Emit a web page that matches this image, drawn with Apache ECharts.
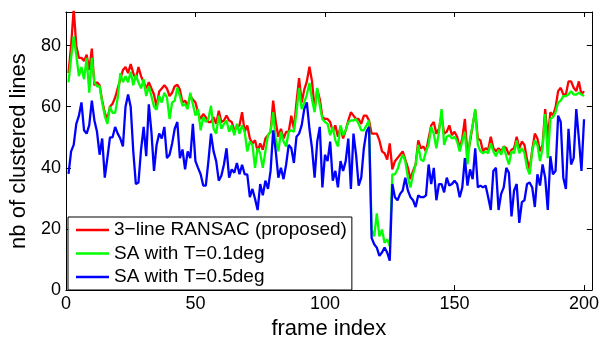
<!DOCTYPE html>
<html>
<head>
<meta charset="utf-8">
<script src="https://cdn.jsdelivr.net/npm/echarts@6/dist/echarts.min.js"></script>
<style>
html,body{margin:0;padding:0;background:#fff;}
#chart{width:602px;height:345px;}
</style>
</head>
<body>
<div id="chart"></div>
<script>
// ---- data (frames 1..200) ----
const seriesNames = ['3\u2212line RANSAC (proposed)', 'SA with T=0.1deg', 'SA with T=0.5deg'];
const xTicks = [0, 50, 100, 150, 200];
const yTicks = [0, 20, 40, 60, 80];

const ransac = [
71,80,92,80,76,76,75,77,72,79,67,68,67,62,58,56,60,61,63,66,
69,72,73,71,74,71,69,73,70,68,66,68,66,64,60,65,66,67,66,63.5,
64.6,66.7,67.2,65.6,61.4,62,60.3,63.5,62.4,61.4,58,56,57.6,56.6,55,55,56.6,54.4,58.7,55,
55.5,57.1,55.5,55,52.3,53.4,53.9,58.2,51.8,53.9,49.6,48,49,45.4,48,45.9,49.6,50.7,51.8,62,
55,50.2,52.8,49.6,51.8,51.8,57.1,52.8,61.4,69.4,61.4,65.6,68.3,73.1,68.3,59.2,65.6,62.4,56.6,56,
56,55,51.8,53.9,50.2,53.4,49.6,52.3,55.5,58.2,57.1,56,56,54.4,57.1,57.1,55.5,51.2,51.2,51.2,
49,45.4,44.8,42.7,48,39.5,42.2,43.2,44.3,45.4,42.7,40,36.3,39,41.1,49,46.4,47,45.4,49.6,
53.9,55,51.2,52.8,57.1,51.2,51.8,53.9,50.7,51.8,50.2,46.4,49.6,56,44.3,48.6,53.9,58.7,49.6,49,
45.4,46.4,45.9,50.2,46.4,45.4,46.4,45.4,47,46.4,44.3,45.9,46.4,50.2,46.4,48.6,47.5,42.7,39.5,45.9,
51.2,49.6,45.4,47.5,59.2,49.6,58.2,57.1,59.8,65.1,66.2,64,64,68.3,68.3,66.2,65.1,68.3,64,65.1
];
const saT01 = [
68,76,83,77,70,73,69,76,64.6,76,68,66.7,66.7,61.4,57,54.4,60,58,58,63,
71,68,70,68,71.5,67,70.4,68,66,69,63.5,66.7,63.5,60,59,63.5,61.4,64.6,63,56,
61.4,62,66.2,63.5,60.3,60.8,59.2,64.6,60.8,57.1,59.2,52.3,56.6,55,56,60.3,52.8,51.2,57.1,52.8,
54.4,55.5,51.8,53.9,50.7,54.4,51.2,53.9,51.8,45.4,48.6,47.5,40,46.4,44.8,40,45.4,50.7,51.8,58.2,
49,45.4,51.8,48.6,47,51.8,52.3,51.8,58.2,66.2,59.2,61.4,64,67.8,62.4,58.2,66.2,60.3,56,55,
54.4,50.7,53.4,49,47,53.9,50.7,52.3,55,55.5,55.5,56,54.4,52.3,52.3,53.9,55.5,19.8,17.6,25.1,
17.6,19.8,15.5,16.6,14.4,37.9,37.9,39.5,42.2,44.3,42.2,36.8,33.6,37.9,41.1,47.5,42.7,42.2,45.4,47.5,
53.4,51.2,46.4,51.8,59.2,47.5,50.2,50.7,49.6,50.2,48.6,45.4,48.6,51.8,41.1,49.6,53.9,59.2,47.5,45.4,
44.8,45.4,44.8,48,45.4,43.8,45.9,44.3,47,43.8,41.1,45.4,44.8,49,44.8,46.4,44.8,40,37.9,45.4,
49,47.5,42.2,46.4,57.6,43.2,56,56.6,58.2,61.4,62,63.5,63.5,64,65.1,64,64,64.6,64,63.5
];
const saT05 = [
38,45.4,47.5,54.4,57,61.4,52.3,51.2,54,62,55.5,51.8,44.3,49.6,36.8,43.2,50,50,53.4,51.2,
49.6,47,60,64,60,45.4,34.7,35.2,46,53.4,43.8,60.8,51.8,39,47.5,51.2,49.6,53.4,43.2,44.3,
48,52.8,55,43.2,46,39.5,45.4,43.2,54.4,42.2,40,37.9,34.2,34.2,42.2,51.2,45.4,42.2,35.8,37.4,
41.1,46.4,36.8,39.5,38.4,41.6,37.9,41,37.9,37.9,30.4,33.1,29.9,26.2,34.7,31,35.8,33.1,39,52.3,
45.4,36.8,40,36.3,41.1,47.5,46.4,41.6,50.2,51.2,53.9,59.2,61.4,52.8,46.4,36.8,48.6,53.4,33.6,44.3,
42.2,48.6,35.8,39,33.6,42.2,39,42.2,49.6,33.1,51.2,44.3,34.2,36.8,46.4,51.8,53.4,17.1,15,13.9,
11.2,12.3,13.9,12.3,9.6,34.7,30.4,29.4,31.5,32.6,36.8,32.6,30.4,29.4,27.2,31,30.4,30.4,31,41.1,
34.7,40,29.4,34.7,34.7,32,36.8,34.2,34.7,35.8,34.7,30.4,33.6,43.2,34.2,39.5,36.3,46.4,33.6,34.2,
33.6,34.2,30.4,26.2,39,40,26.2,31.5,33.6,40,38.4,24.1,32.6,34.7,22,28.8,29.4,34.7,35.2,33.6,
27.2,37.9,34.2,41.1,36.8,26.2,43.8,37.9,39,57.1,55,36.8,33.1,52.8,41.1,43.2,59.2,49.6,39,55.9
];

const colors = ['#ff0000', '#00ff00', '#0000ff'];
const FONT = "'Liberation Sans', Arial, Helvetica, sans-serif";

function toPoints(arr){ return arr.map((v, i) => [i + 1, v]); }

const chart = echarts.init(document.getElementById('chart'), null, {renderer: 'canvas'});

const axisCommon = {
  axisLine: {show: true, onZero: false, lineStyle: {color: '#000', width: 1}},
  axisTick: {show: true, inside: true, length: 5, lineStyle: {color: '#000', width: 1}},
  splitLine: {show: false}
};

const option = {
  animation: false,
  backgroundColor: '#fff',
  grid: {left: 62, right: 8, top: 12, bottom: 48, containLabel: false},
  xAxis: [
    Object.assign({
      type: 'value', min: 0, max: 203, interval: 50, position: 'bottom',
      name: 'frame index', nameLocation: 'middle', nameGap: 22,
      nameTextStyle: {fontFamily: FONT, fontSize: 22, color: '#000'},
      axisLabel: {fontFamily: FONT, fontSize: 18, color: '#000', margin: 5,
        formatter: v => (xTicks.indexOf(v) >= 0 ? String(v) : '')}
    }, axisCommon),
    Object.assign({
      type: 'value', min: 0, max: 203, interval: 50, position: 'top',
      axisLabel: {show: false}
    }, axisCommon)
  ],
  yAxis: [
    Object.assign({
      type: 'value', min: 0, max: 91, interval: 20, position: 'left',
      name: 'nb of clustered lines', nameLocation: 'middle', nameGap: 35,
      nameTextStyle: {fontFamily: FONT, fontSize: 22, color: '#000'},
      axisLabel: {fontFamily: FONT, fontSize: 18, color: '#000', margin: 5,
        formatter: v => (yTicks.indexOf(v) >= 0 ? String(v) : '')}
    }, axisCommon),
    Object.assign({
      type: 'value', min: 0, max: 91, interval: 20, position: 'right',
      axisLabel: {show: false}
    }, axisCommon)
  ],
  legend: {
    show: true,
    orient: 'vertical',
    left: 68, top: 217,
    data: seriesNames,
    icon: 'path://M0,0L33,0L33,2.4L0,2.4Z',
    backgroundColor: '#fff',
    borderColor: '#000', borderWidth: 1,
    padding: [3, 5, 3, 8],
    itemWidth: 33, itemHeight: 20, itemGap: 3.5,
    textStyle: {fontFamily: FONT, fontSize: 19, color: '#000', lineHeight: 20}
  },
  series: [
    {name: seriesNames[0], data: toPoints(ransac)},
    {name: seriesNames[1], data: toPoints(saT01)},
    {name: seriesNames[2], data: toPoints(saT05)}
  ].map((s, i) => Object.assign(s, {
    type: 'line', xAxisIndex: 0, yAxisIndex: 0,
    symbol: 'none', showSymbol: false,
    color: colors[i],
    lineStyle: {color: colors[i], width: 2.3},
    itemStyle: {color: colors[i]},
    clip: true
  }))
};
chart.setOption(option);
</script>
</body>
</html>
